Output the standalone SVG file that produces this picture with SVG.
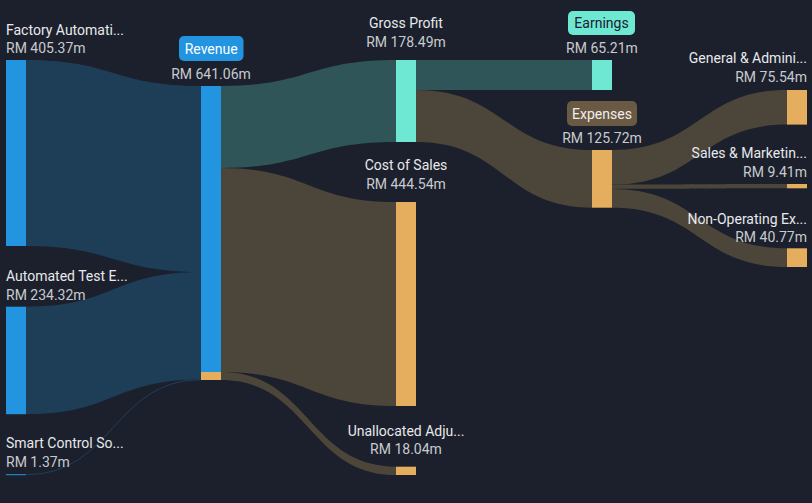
<svg xmlns="http://www.w3.org/2000/svg" width="812" height="503" viewBox="0 0 812 503">
<style>
.bg{fill:#1b202c}
.lb{fill:#1e3e58}
.lt{fill:#2f5559}
.lw{fill:#4c4539}
.nb{fill:#2394df}
.nt{fill:#6ee7d3}
.no{fill:#e5ae5f}
text{font-family:Roboto,"Liberation Sans",sans-serif;font-size:14px}
.nm{fill:#e8e9eb}
.vl{fill:#c8cacf}
.mid{text-anchor:middle}
.end{text-anchor:end}
</style>
<rect class="bg" x="0" y="0" width="812" height="503"/>
<g id="links">
<path class="lb" d="M26 60 C113.5 60 113.5 86 201 86 L201 272 C113.5 272 113.5 246 26 246 Z"/>
<path class="lb" d="M26 306.7 C113.5 306.7 113.5 272 201 272 L201 379.5 C113.5 379.5 113.5 414.2 26 414.2 Z"/>
<path d="M26 474.7 C113.5 474.7 113.5 379.7 201 379.7" fill="none" stroke="#1e3e58" stroke-width="1"/>
<path class="lt" d="M221 86 C308.5 86 308.5 60 396 60 L396 142 C308.5 142 308.5 168 221 168 Z"/>
<path class="lw" d="M221 168 C308.5 168 308.5 202 396 202 L396 406 C308.5 406 308.5 372 221 372 Z"/>
<path class="lw" d="M221 372 C308.5 372 308.5 466.7 396 466.7 L396 475 C308.5 475 308.5 380 221 380 Z"/>
<path class="lt" d="M416 60 L592 60 L592 90 L416 90 Z"/>
<path class="lw" d="M416 90 C504 90 504 150 592 150 L592 207.7 C504 207.7 504 142 416 142 Z"/>
<path class="lw" d="M612 150 C699.5 150 699.5 90 787 90 L787 124.6 C699.5 124.6 699.5 184.6 612 184.6 Z"/>
<path class="lw" d="M612 184.6 C699.5 184.6 699.5 184 787 184 L787 188.3 C699.5 188.3 699.5 188.9 612 188.9 Z"/>
<path class="lw" d="M612 188.9 C699.5 188.9 699.5 248.3 787 248.3 L787 267 C699.5 267 699.5 207.7 612 207.7 Z"/>
</g>
<g id="factory">
<rect class="nb" x="6" y="60" width="20" height="186"/>
<text class="nm" x="6" y="35">Factory Automati...</text>
<text class="vl" x="6" y="53">RM 405.37m</text>
</g>
<g id="automated">
<rect class="nb" x="6" y="306.7" width="20" height="107.5"/>
<text class="nm" x="6" y="281">Automated Test E...</text>
<text class="vl" x="6" y="299.5">RM 234.32m</text>
</g>
<g id="smart">
<rect class="nb" x="6" y="474.2" width="20" height="1"/>
<text class="nm" x="6" y="448">Smart Control So...</text>
<text class="vl" x="6" y="467">RM 1.37m</text>
</g>
<g id="revenue">
<rect class="nb" x="201" y="86" width="20" height="286"/>
<rect class="no" x="201" y="372" width="20" height="8"/>
<rect x="179" y="36" width="64.5" height="25" rx="5" fill="#2394df"/>
<text class="mid" x="211.2" y="54" fill="#ffffff">Revenue</text>
<text class="vl mid" x="211" y="79">RM 641.06m</text>
</g>
<g id="grossprofit">
<rect class="nt" x="396" y="60" width="20" height="82"/>
<text class="nm mid" x="406" y="28">Gross Profit</text>
<text class="vl mid" x="406" y="47">RM 178.49m</text>
</g>
<g id="costofsales">
<rect class="no" x="396" y="202" width="20" height="204"/>
<text class="nm mid" x="406" y="170">Cost of Sales</text>
<text class="vl mid" x="406" y="189">RM 444.54m</text>
</g>
<g id="unallocated">
<rect class="no" x="396" y="466.7" width="20" height="8.3"/>
<text class="nm mid" x="406" y="435.5">Unallocated Adju...</text>
<text class="vl mid" x="406" y="454">RM 18.04m</text>
</g>
<g id="earnings">
<rect class="nt" x="592" y="60" width="20" height="30"/>
<rect x="568" y="11" width="67" height="24" rx="5" fill="#6ee7d3"/>
<text class="mid" x="601.5" y="28" fill="#1b202c">Earnings</text>
<text class="vl mid" x="602" y="53">RM 65.21m</text>
</g>
<g id="expenses">
<rect class="no" x="592" y="150" width="20" height="57.7"/>
<rect x="567" y="101" width="70" height="25" rx="5" fill="#6b5a43"/>
<text class="mid" x="602" y="118.5" fill="#eeeeee">Expenses</text>
<text class="vl mid" x="602" y="143">RM 125.72m</text>
</g>
<g id="general">
<rect class="no" x="787" y="90" width="20" height="34.6"/>
<text class="nm end" x="807" y="62.5">General &amp; Admini...</text>
<text class="vl end" x="807" y="81.5">RM 75.54m</text>
</g>
<g id="sales">
<rect class="no" x="787" y="184" width="20" height="4.3"/>
<text class="nm end" x="807" y="158">Sales &amp; Marketin...</text>
<text class="vl end" x="807" y="177">RM 9.41m</text>
</g>
<g id="nonoperating">
<rect class="no" x="787" y="248.3" width="20" height="18.7"/>
<text class="nm end" x="807" y="223.5">Non-Operating Ex...</text>
<text class="vl end" x="807" y="242">RM 40.77m</text>
</g>
</svg>
